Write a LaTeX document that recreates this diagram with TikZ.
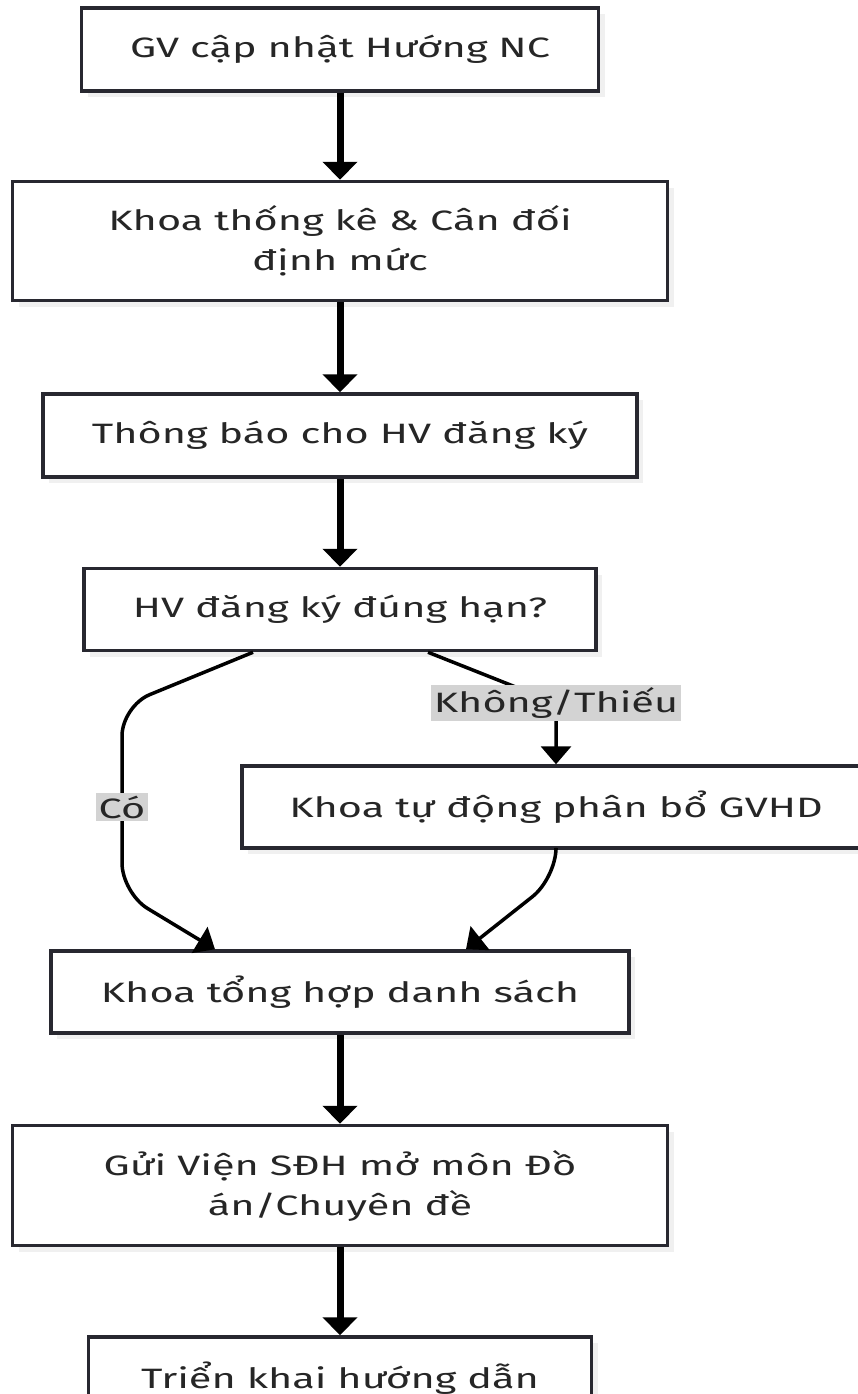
\documentclass[tikz,border=0pt]{standalone}
\usepackage{fontspec}
\setmainfont{Fira Sans}[FakeStretch=1.48]
\usetikzlibrary{arrows.meta, positioning, shadows}
\definecolor{edgedark}{RGB}{40,40,48}
\definecolor{tagfill}{RGB}{211,211,211}

\begin{document}
\begin{tikzpicture}[
    x=1pt, y=1pt,
    font=\fontsize{28}{40}\selectfont,
    box/.style={rectangle, draw=edgedark, line width=3.5pt, fill=white,
                drop shadow={shadow xshift=6pt, shadow yshift=-6pt, opacity=0.12},
                minimum height=83pt, align=center, text=black!85, inner sep=0pt},
    flow/.style={-{Triangle[width=34pt, length=18pt]}, line width=7pt},
    branch/.style={-{Triangle[width=30pt, length=18pt]}, line width=3.5pt},
    tag/.style={sharp corners, fill=tagfill, text=black!85, inner xsep=3pt, inner ysep=3pt}
]
\useasboundingbox (0,0) rectangle (858,-1394);
\clip (0,0) rectangle (858,-1394);

% Define steps
\node[box, minimum width=517pt] (upd) at (340,-49.5) {GV cập nhật Hướng NC};
\node[box, minimum width=655pt, minimum height=119pt, below=87pt of upd] (stats) {Khoa thống kê \& Cân đối\\định mức};
\node[box, minimum width=594pt, below=90pt of stats] (notify) {Thông báo cho HV đăng ký};
\node[box, minimum width=512pt, minimum height=82pt, below=88pt of notify] (check) {HV đăng ký đúng hạn?};
\node[box, minimum width=628pt, minimum height=82pt] (assign) at (556,-807) {Khoa tự động phân bổ GVHD};
\node[box, minimum width=578pt, minimum height=82pt, below=297pt of check] (collect) {Khoa tổng hợp danh sách};
\node[box, minimum width=655pt, minimum height=120pt, below=89pt of collect] (send) {Gửi Viện SĐH mở môn Đồ\\án/Chuyên đề};
\node[box, minimum width=503pt, below=88pt of send] (deploy) {Triển khai hướng dẫn};

% Bends of the two branches
\coordinate (yesbend) at (122,-706);
\coordinate (yesfoot) at (122,-893);
\coordinate (nobend) at (556,-703);
\coordinate (nofoot) at (556,-878);

% Main flow
\draw[flow] (upd) -- (stats);
\draw[flow] (stats) -- (notify);
\draw[flow] (notify) -- (check);
\draw[flow] (collect) -- (send);
\draw[flow] (send) -- (deploy);

% Branches
\draw[branch, rounded corners=30pt] ([xshift=-87pt]check.south) -- (yesbend)
    -- node[tag, pos=0.54] (yeslbl) {Có} (yesfoot) -- ([xshift=-125pt]collect.north);
\draw[branch] ([xshift=88pt]check.south) -- (nobend) node[tag] (nolbl) {Không/Thiếu} -- (assign.north);
\draw[branch, rounded corners=30pt] (assign.south) -- (nofoot) -- ([xshift=126pt]collect.north);

\end{tikzpicture}
\end{document}
